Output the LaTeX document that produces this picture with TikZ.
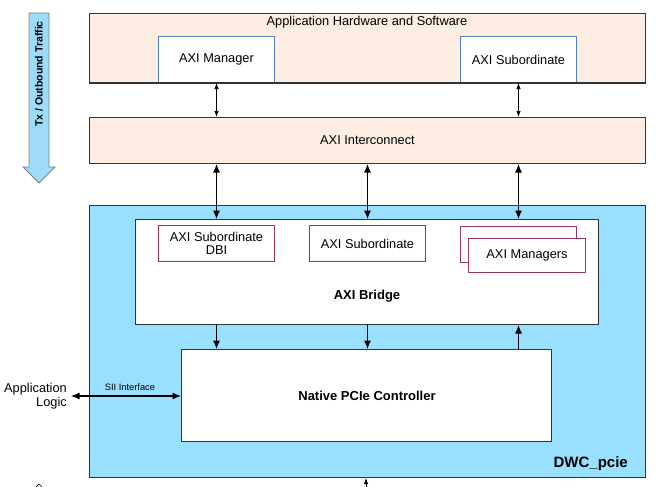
\documentclass[tikz,border=0pt]{standalone}
\usepackage{fontspec}
\setmainfont{Liberation Sans}
\usetikzlibrary{arrows.meta}
\definecolor{peach}{HTML}{FCECE1}
\definecolor{mgrblue}{HTML}{4F81BD}
\definecolor{dwcblue}{HTML}{99DFFF}
\definecolor{plum}{HTML}{993366}
\definecolor{txblue}{HTML}{9DDCF9}
\definecolor{edge}{HTML}{333333}
\tikzset{
  every node/.style={font=\fontsize{12.8}{14.5}\selectfont, inner sep=0pt},
  peachbox/.style={draw=edge, line width=1pt, fill=peach, anchor=north west},
  bluebox/.style={draw=mgrblue, line width=1pt, fill=white, anchor=north west},
  plumbox/.style={draw=plum, line width=1pt, fill=white, anchor=north west, align=center},
  whitebox/.style={draw=edge, line width=1pt, fill=white, anchor=north west},
  bigarrow/.style={line width=1.1pt, {Latex[length=8.5pt,width=7pt]}-{Latex[length=8.5pt,width=7pt]}},
  smallarrow/.style={line width=0.7pt, {Latex[length=6pt,width=4.5pt]}-{Latex[length=6pt,width=4.5pt]}},
  onearrow/.style={line width=1.1pt, -{Latex[length=8.5pt,width=7pt]}},
}
\begin{document}
\begin{tikzpicture}[x=1pt,y=-1pt]
\useasboundingbox (0,0) rectangle (672,487);
% Tx arrow
\draw[fill=txblue, draw=gray, line width=0.8pt] (29,13) -- (49,13) -- (49,167) -- (55,167) -- (39,183) -- (23,167) -- (29,167) -- cycle;
\node (tx) [rotate=90, font=\fontsize{10.5}{12}\selectfont\bfseries] at (39,74) {Tx / Outbound Traffic};
% top application box
\node (app) [peachbox, minimum width=556pt, minimum height=69pt] at (89,13) {};
\node (apptitle) at (367,22) {Application Hardware and Software};
\node (man) [bluebox, minimum width=116pt, minimum height=46pt] at (158,36) {AXI Manager};
\node (sub) [bluebox, minimum width=116pt, minimum height=46pt] at (460,36) {AXI Subordinate};
\draw[edge, line width=1pt] (app.south west) -- (app.south east);
% interconnect
\node (ic) [peachbox, minimum width=556pt, minimum height=46pt] at (89,117) {AXI Interconnect};
\draw[smallarrow] (man.south) -- (man.south |- ic.north);
\draw[smallarrow] (sub.south) -- (sub.south |- ic.north);
% DWC
\node (dwc) [draw=edge, line width=1pt, fill=dwcblue, anchor=north west, minimum width=556pt, minimum height=272pt] at (89,205) {};
\node (dwclabel) [font=\fontsize{15}{17}\selectfont\bfseries, anchor=east] at (628,464) {DWC\_pcie};
% bridge
\node (br) [whitebox, minimum width=463pt, minimum height=105pt] at (135,219) {};
\node (brlabel) [font=\fontsize{13}{15}\selectfont\bfseries] at (367,296) {AXI Bridge};
\node (dbi) [plumbox, minimum width=116pt, minimum height=36pt] at (158,225) {AXI Subordinate\\[-1pt]DBI};
\node (msub) [plumbox, minimum width=116pt, minimum height=36pt] at (309,225) {AXI Subordinate};
\node (mgrback) [plumbox, minimum width=116pt, minimum height=36pt] at (460,226) {};
\node (mgr) [plumbox, minimum width=117pt, minimum height=34pt] at (468,238) {AXI Managers};
\draw[bigarrow] (ic.south -| dbi.north) -- (br.north -| dbi.north);
\draw[bigarrow] (ic.south -| msub.north) -- (br.north -| msub.north);
\draw[bigarrow] (ic.south -| mgrback.north) -- (br.north -| mgrback.north);
% controller
\node (ctl) [whitebox, minimum width=370pt, minimum height=92pt] at (181,349) {};
\node (ctllabel) [font=\fontsize{13}{15}\selectfont\bfseries] at (367,396) {Native PCIe Controller};
\draw[onearrow] (br.south -| dbi.south) -- (ctl.north -| dbi.south);
\draw[onearrow] (br.south -| msub.south) -- (ctl.north -| msub.south);
\draw[onearrow] (ctl.north -| mgrback.south) -- (br.south -| mgrback.south);
% application logic
\node (applog) [align=right, anchor=east] at (67,396) {Application\\[-1pt]Logic};
\coordinate (alend) at (71,396);
\draw[bigarrow] (alend) -- (ctl.west |- alend);
\node (sii) [font=\fontsize{9.3}{10}\selectfont] at (130,387) {SII Interface};
% bottom arrow
\coordinate (bot) at (366,490);
\draw[line width=0.8pt, -{Latex[length=6pt,width=4.5pt]}] (bot) -- (bot |- dwc.south);
% clipped caret
\draw[line width=0.7pt] (35,488) -- (39,484) -- (43,488);
\end{tikzpicture}
\end{document}
